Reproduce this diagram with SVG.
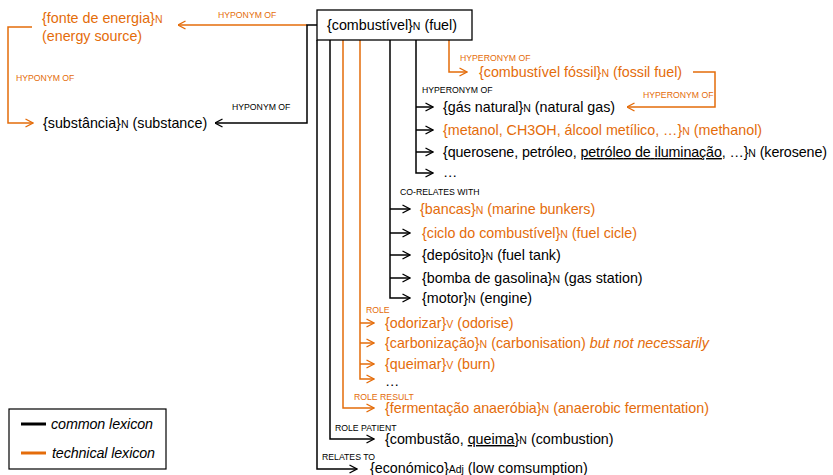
<svg xmlns="http://www.w3.org/2000/svg" width="833" height="475" viewBox="0 0 833 475">
<style>
text{font-family:"Liberation Sans",Arial,sans-serif;font-size:14.3px;fill:#000}
.o{fill:#E46C0A}
.s{font-size:10.5px}
.l{font-size:8.7px}
.i{font-style:italic}
.u{text-decoration:underline}
.k{fill:none;stroke:#000;stroke-width:1.5}
.r{fill:none;stroke:#E46C0A;stroke-width:1.5}
.ka{marker-end:url(#ak)}
.ra{marker-end:url(#ar)}
</style>
<defs>
<marker id="ak" viewBox="0 0 9 10" refX="8.5" refY="5" markerWidth="9" markerHeight="10" markerUnits="userSpaceOnUse" orient="auto"><path d="M1,1 L8.5,5 L1,9" fill="none" stroke="#000" stroke-width="1.4"/></marker>
<marker id="ar" viewBox="0 0 9 10" refX="8.5" refY="5" markerWidth="9" markerHeight="10" markerUnits="userSpaceOnUse" orient="auto"><path d="M1,1 L8.5,5 L1,9" fill="none" stroke="#E46C0A" stroke-width="1.4"/></marker>
</defs>
<rect width="833" height="475" fill="#fff"/>
<g id="connectors">
<path class="r ra" d="M307,25 H178"/>
<path class="k ka" d="M317,25 H307 V123 H215"/>
<path class="r ra" d="M32,27 H8 V123 H33"/>
<path class="r ra" d="M449,40 V72 H467"/>
<path class="r ra" d="M693,72 H715 V107 H627"/>
<path class="k ka" d="M416,40 V173 H433"/>
<path class="k ka" d="M416,107 H433"/>
<path class="k ka" d="M416,130 H433"/>
<path class="k ka" d="M416,152 H433"/>
<path class="k ka" d="M390,40 V298 H410"/>
<path class="k ka" d="M390,209 H410"/>
<path class="k ka" d="M390,233 H410"/>
<path class="k ka" d="M390,255 H410"/>
<path class="k ka" d="M390,278 H410"/>
<path class="r ra" d="M360,40 V379 H374"/>
<path class="r ra" d="M360,323 H374"/>
<path class="r ra" d="M360,343 H374"/>
<path class="r ra" d="M360,364 H374"/>
<path class="r ra" d="M343,40 V408 H374"/>
<path class="k ka" d="M330,40 V439 H374"/>
<path class="k ka" d="M317,40 V469 H357"/>
<text class="l o" x="218" y="18">HYPONYM OF</text>
<text class="l o" x="16" y="81">HYPONYM OF</text>
<text class="l" x="232" y="110">HYPONYM OF</text>
<text class="l o" x="460" y="61">HYPERONYM OF</text>
<text class="l o" x="643" y="98">HYPERONYM OF</text>
<text class="l" x="422" y="93">HYPERONYM OF</text>
<text class="l" x="400" y="195">CO-RELATES WITH</text>
<text class="l o" x="366" y="313">ROLE</text>
<text class="l o" x="354" y="399.5">ROLE RESULT</text>
<text class="l" x="335" y="431">ROLE PATIENT</text>
<text class="l" x="322" y="460">RELATES TO</text>
</g>
<g id="fuel">
<rect x="317" y="10" width="155" height="30" fill="#fff" stroke="#000" stroke-width="1.3"/>
<text x="327" y="30">{combustível}<tspan class="s">N</tspan> (fuel)</text>
</g>
<g id="fonte">
<text class="o" x="42" y="23">{fonte de energia}<tspan class="s">N</tspan></text>
<text class="o" x="42" y="41">(energy source)</text>
</g>
<g id="substancia"><text x="43" y="128">{substância}<tspan class="s">N</tspan> (substance)</text></g>
<g id="fossil"><text class="o" x="479" y="77">{combustível fóssil}<tspan class="s">N</tspan> (fossil fuel)</text></g>
<g id="gas"><text x="443" y="112">{gás natural}<tspan class="s">N</tspan> (natural gas)</text></g>
<g id="metanol"><text class="o" x="443" y="135">{metanol, CH3OH, álcool metílico, …}<tspan class="s">N</tspan> (methanol)</text></g>
<g id="querosene"><text x="443" y="157" textLength="384">{querosene, petróleo, <tspan class="u">petróleo de iluminação</tspan>, …}<tspan class="s">N</tspan> (kerosene)</text></g>
<g id="etc1"><text x="443" y="177">…</text></g>
<g id="bancas"><text class="o" x="420" y="214">{bancas}<tspan class="s">N</tspan> (marine bunkers)</text></g>
<g id="ciclo"><text class="o" x="422" y="238">{ciclo do combustível}<tspan class="s">N</tspan> (fuel cicle)</text></g>
<g id="deposito"><text x="422" y="260">{depósito}<tspan class="s">N</tspan> (fuel tank)</text></g>
<g id="bomba"><text x="422" y="283">{bomba de gasolina}<tspan class="s">N</tspan> (gas station)</text></g>
<g id="motor"><text x="422" y="303">{motor}<tspan class="s">N</tspan> (engine)</text></g>
<g id="odorizar"><text class="o" x="385" y="328">{odorizar}<tspan class="s">V</tspan> (odorise)</text></g>
<g id="carbonizacao"><text class="o" x="385" y="348">{carbonização}<tspan class="s">N</tspan> (carbonisation) <tspan class="i">but not necessarily</tspan></text></g>
<g id="queimar"><text class="o" x="385" y="369">{queimar}<tspan class="s">V</tspan> (burn)</text></g>
<g id="etc2"><text x="385" y="386">…</text></g>
<g id="fermentacao"><text class="o" x="385" y="413">{fermentação anaeróbia}<tspan class="s">N</tspan> (anaerobic fermentation)</text></g>
<g id="combustao"><text x="385" y="444">{combustão, <tspan class="u">queima</tspan>}<tspan class="s">N</tspan> (combustion)</text></g>
<g id="economico"><text x="370" y="473">{económico}<tspan class="s">Adj</tspan> (low comsumption)</text></g>
<g id="legend">
<rect x="9" y="409" width="157" height="60" fill="#fff" stroke="#000" stroke-width="1.2"/>
<line x1="21" y1="424" x2="46" y2="424" stroke="#000" stroke-width="3"/>
<line x1="21" y1="453" x2="46" y2="453" stroke="#E46C0A" stroke-width="3"/>
<text class="i" x="51" y="429" textLength="102">common lexicon</text>
<text class="i" x="52" y="458" textLength="103">technical lexicon</text>
</g>
</svg>
